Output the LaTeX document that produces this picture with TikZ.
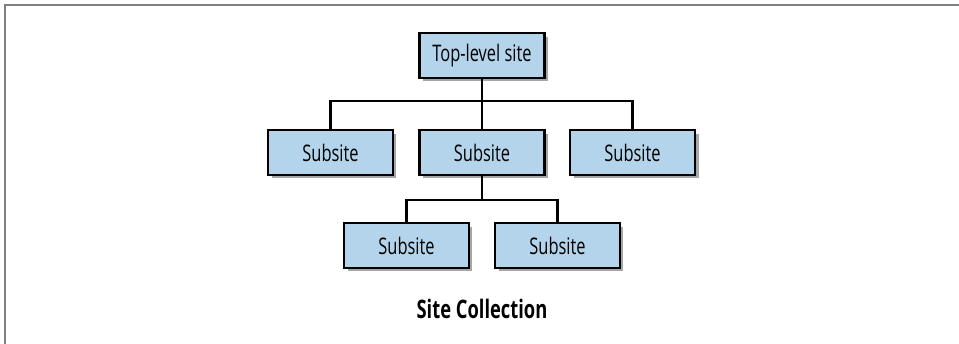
\documentclass[tikz,border=0pt]{standalone}
\usepackage{fontspec}
\setmainfont{Open Sans}[FakeStretch=0.72]
\usetikzlibrary{shadows}
\definecolor{siteblue}{RGB}{179,212,234}
\definecolor{framegray}{RGB}{128,128,128}
\tikzset{
  sitebox/.style={draw=black, line width=1.2pt, fill=siteblue,
    minimum width=2.5cm, minimum height=0.9cm, inner sep=0pt,
    font=\fontsize{13}{15}\selectfont,
    drop shadow={shadow xshift=0.07cm, shadow yshift=-0.07cm, fill=black, opacity=.35}},
  link/.style={line width=1.2pt}
}
\begin{document}
\begin{tikzpicture}[x=0.02cm,y=-0.02cm]
\useasboundingbox (0,0) rectangle (959,344);
%frame
\draw[framegray, line width=1.1pt] (959,5) -- (5,5) -- (5,344);
% top level
\node[sitebox] (top) at (482,55.5) {Top-level site};
% second row
\node[sitebox] (sub1) at (330.5,152.5) {Subsite};
\node[sitebox] (sub2) at (482,152.5) {Subsite};
\node[sitebox] (sub3) at (632.5,152.5) {Subsite};
% third row
\node[sitebox] (sub4) at (406.5,245.5) {Subsite};
\node[sitebox] (sub5) at (557.5,245.5) {Subsite};
\coordinate (j1) at (482,101);
\coordinate (j2) at (482,200);
\draw[link] (top.south) -- (j1);
\foreach \s in {sub1,sub2,sub3}{
\draw[link] (\s.north) |- (j1);
}
\draw[link] (sub2.south) -- (j2);
\foreach \s in {sub4,sub5}{
\draw[link] (\s.north) |- (j2);
}
\node[font=\fontsize{14.5}{17}\selectfont\bfseries] (title) at (482,309) {Site Collection};
\end{tikzpicture}
\end{document}
